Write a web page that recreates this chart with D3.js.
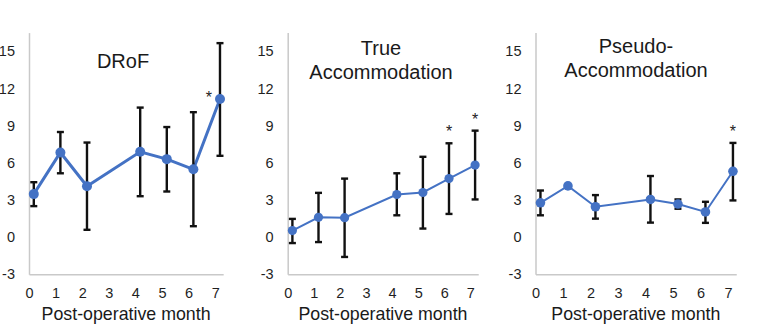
<!DOCTYPE html>
<html>
<head>
<meta charset="utf-8">
<script src="https://cdn.jsdelivr.net/npm/d3@7"></script>
<style>
    body { margin: 0; background: #fff; }
    svg { display: block; font-family: "Liberation Sans", Arial, sans-serif; }
    .axis text { font-size: 14.5px; fill: #1f1f1f; }
    .axis path { stroke: #c9c9c9; stroke-width: 1.5px; }
</style>
</head>
<body>
<svg id="chart" width="768" height="332"></svg>
<script>
// x position of each measurement (months after surgery)
var months = [0.18, 1.18, 2.18, 4.18, 5.18, 6.18, 7.18];
var monthTicks = [0, 1, 2, 3, 4, 5, 6, 7];
var yTicks = [-3, 0, 3, 6, 9, 12, 15];

// DRoF
var drofMean = [3.47, 6.83, 4.1, 6.88, 6.29, 5.47, 11.15];
var drofLow  = [2.5, 5.15, 0.59, 3.3, 3.68, 0.88, 6.56];
var drofHigh = [4.43, 8.48, 7.63, 10.45, 8.88, 10.08, 15.65];
var drofSig  = [6];

// True accommodation
var trueMean = [0.53, 1.6, 1.57, 3.44, 3.6, 4.72, 5.81];
var trueLow  = [-0.48, -0.4, -1.6, 1.76, 0.69, 1.87, 3.04];
var trueHigh = [1.47, 3.57, 4.72, 5.15, 6.48, 7.57, 8.59];
var trueSig  = [5, 6];

// Pseudo-accommodation
var pseudoMean = [2.77, 4.13, 2.45, 3.04, 2.67, 2.03, 5.31];
var pseudoLow  = [1.76, 4.13, 1.49, 1.17, 2.29, 1.15, 2.96];
var pseudoHigh = [3.76, 4.13, 3.39, 4.93, 3.04, 2.85, 7.6];
var pseudoSig  = [6];

var panels = [
    {title: ["DRoF"], titleX: 123, titleY: 68, left: 29, step: 26.6, lw: 3, r: 5,
     mean: drofMean, low: drofLow, high: drofHigh, sig: drofSig, sigPos: "left"},
    {title: ["True", "Accommodation"], titleX: 381, titleY: 55, left: 287.7, step: 26.1, lw: 2, r: 4.6,
     mean: trueMean, low: trueLow, high: trueHigh, sig: trueSig, sigPos: "above"},
    {title: ["Pseudo-", "Accommodation"], titleX: 636, titleY: 53, left: 535.5, step: 27.5, lw: 2, r: 4.8,
     mean: pseudoMean, low: pseudoLow, high: pseudoHigh, sig: pseudoSig, sigPos: "above"}
];

var svg = d3.select("#chart");
var blue = "#4472c4";

var y = d3.scaleLinear()
    .domain([-3, 16.5])
    .range([274.3, 32.6]);

panels.forEach(function (p) {
    var x = d3.scaleLinear()
        .domain([0, 7])
        .range([p.left, p.left + 7 * p.step]);
    var g = svg.append("g");

    g.append("g")
        .attr("class", "axis")
        .attr("transform", "translate(" + p.left + ",0)")
        .call(d3.axisLeft(y).tickValues(yTicks).tickSize(0).tickSizeOuter(0).tickPadding(14)
            .tickFormat(function (d) { return String(d); }));

    var xa = d3.scaleLinear().domain([0, 7.3]).range([p.left, x(7.3)]);
    g.append("g")
        .attr("class", "axis")
        .attr("transform", "translate(0," + y(-3) + ")")
        .call(d3.axisBottom(xa).tickValues(monthTicks).tickSize(0).tickSizeOuter(0).tickPadding(13));

    g.append("text")
        .attr("x", (p.left + x(7.3)) / 2)
        .attr("y", 320)
        .attr("text-anchor", "middle")
        .style("font-size", "17.8px")
        .style("fill", "#1a1a1a")
        .text("Post-operative month");

    g.append("text")
        .attr("text-anchor", "middle")
        .style("font-size", "20px")
        .style("fill", "#1a1a1a")
        .selectAll("tspan")
        .data(p.title)
        .enter().append("tspan")
        .attr("x", p.titleX)
        .attr("y", function (d, i) { return p.titleY + i * 23.5; })
        .text(function (d) { return d; });

    var line = d3.line()
        .x(function (d, i) { return x(months[i]); })
        .y(function (d) { return y(d); });

    g.append("path")
        .datum(p.mean)
        .attr("d", line)
        .attr("fill", "none")
        .attr("stroke", blue)
        .attr("stroke-width", p.lw);

    // error bars (skipped where the spread is zero)
    var err = g.selectAll(".err")
        .data(d3.range(p.mean.length).filter(function (i) { return p.high[i] > p.low[i]; }))
        .enter().append("g")
        .attr("class", "err")
        .attr("stroke", "#111")
        .attr("stroke-width", 2.4);
    err.append("line")
        .attr("x1", function (i) { return x(months[i]); })
        .attr("x2", function (i) { return x(months[i]); })
        .attr("y1", function (i) { return y(p.low[i]); })
        .attr("y2", function (i) { return y(p.high[i]); });
    err.append("line")
        .attr("x1", function (i) { return x(months[i]) - 3.5; })
        .attr("x2", function (i) { return x(months[i]) + 3.5; })
        .attr("y1", function (i) { return y(p.low[i]); })
        .attr("y2", function (i) { return y(p.low[i]); });
    err.append("line")
        .attr("x1", function (i) { return x(months[i]) - 3.5; })
        .attr("x2", function (i) { return x(months[i]) + 3.5; })
        .attr("y1", function (i) { return y(p.high[i]); })
        .attr("y2", function (i) { return y(p.high[i]); });

    g.selectAll("circle")
        .data(p.mean)
        .enter().append("circle")
        .attr("cx", function (d, i) { return x(months[i]); })
        .attr("cy", function (d) { return y(d); })
        .attr("r", p.r)
        .attr("fill", blue);

    g.selectAll(".sig")
        .data(p.sig)
        .enter().append("text")
        .attr("class", "sig")
        .attr("text-anchor", "middle")
        .style("font-size", "16px")
        .style("fill", "#222")
        .attr("x", function (i) { return p.sigPos === "left" ? x(months[i]) - 11 : x(months[i]); })
        .attr("y", function (i) { return p.sigPos === "left" ? y(p.mean[i]) + 4 : y(p.high[i]) - 6; })
        .text("*");
});
</script>
</body>
</html>
